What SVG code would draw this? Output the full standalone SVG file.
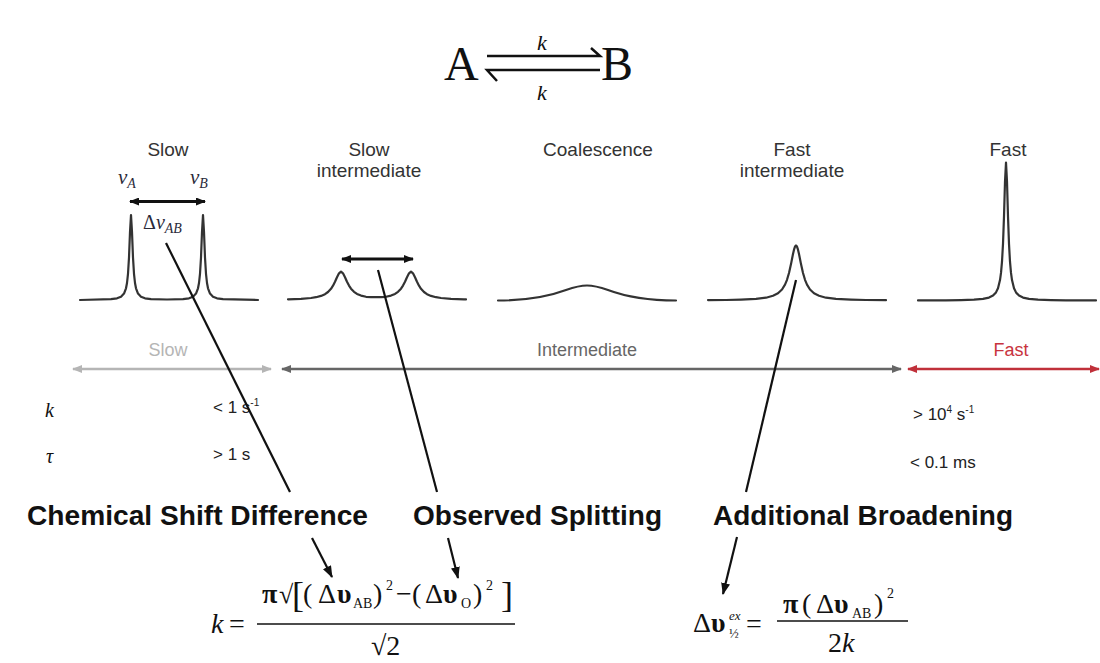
<svg xmlns="http://www.w3.org/2000/svg" width="1100" height="663" viewBox="0 0 1100 663">
<style>
.bg{fill:#ffffff}
.lbl{font-family:"Liberation Sans",Arial,sans-serif;font-size:19px;fill:#333;text-anchor:middle}
.reg{font-family:"Liberation Sans",Arial,sans-serif;font-size:18px;text-anchor:middle}
.val{font-family:"Liberation Sans",Arial,sans-serif;font-size:17px;fill:#222}
.sup{font-size:10px}
.big{font-family:"Liberation Sans",Arial,sans-serif;font-size:28px;font-weight:bold;fill:#111}
.serif{font-family:"Liberation Serif","Times New Roman",serif;fill:#111}
.math{font-family:"Liberation Serif","Times New Roman",serif;fill:#2a2a3a}
.spec{fill:none;stroke:#333;stroke-width:2.2;stroke-linejoin:round;stroke-linecap:round}
.conn{fill:none;stroke:#111;stroke-width:2.2}
.dbl{stroke:#111;stroke-width:3}
.bar{stroke:#111;stroke-width:1.6}
</style>
<defs>
<marker id="ahBlack" viewBox="0 0 10 8" refX="9" refY="4" markerWidth="10" markerHeight="8" markerUnits="userSpaceOnUse" orient="auto-start-reverse"><path d="M0,0 L10,4 L0,8 z" fill="#111"/></marker>
<marker id="ahLight" viewBox="0 0 10 8" refX="9" refY="4" markerWidth="11" markerHeight="8" markerUnits="userSpaceOnUse" orient="auto-start-reverse"><path d="M0,0 L10,4 L0,8 z" fill="#b5b5b5"/></marker>
<marker id="ahDark" viewBox="0 0 10 8" refX="9" refY="4" markerWidth="11" markerHeight="8" markerUnits="userSpaceOnUse" orient="auto-start-reverse"><path d="M0,0 L10,4 L0,8 z" fill="#666"/></marker>
<marker id="ahRed" viewBox="0 0 10 8" refX="9" refY="4" markerWidth="11" markerHeight="8" markerUnits="userSpaceOnUse" orient="auto-start-reverse"><path d="M0,0 L10,4 L0,8 z" fill="#c0303a"/></marker>
<marker id="ahConn" viewBox="0 0 12 9" refX="11" refY="4.5" markerWidth="12" markerHeight="9" markerUnits="userSpaceOnUse" orient="auto"><path d="M0,0 L12,4.5 L0,9 z" fill="#111"/></marker>
</defs>
<rect class="bg" x="0" y="0" width="1100" height="663"/>

<g id="equilibrium">
<text class="serif" x="444" y="80" font-size="48">A</text>
<text class="serif" x="601" y="80" font-size="48">B</text>
<path d="M487,56 L600,56 L591,48" fill="none" stroke="#111" stroke-width="2.5"/>
<path d="M600,70 L487,70 L497,81" fill="none" stroke="#111" stroke-width="2.5"/>
<text class="serif" x="542" y="50" font-size="22" font-style="italic" text-anchor="middle">k</text>
<text class="serif" x="542" y="100" font-size="22" font-style="italic" text-anchor="middle">k</text>
</g>

<g id="spectrum-slow">
<text class="lbl" x="168" y="156">Slow</text>
<text class="math" x="118" y="184" font-size="21" font-style="italic">ν<tspan font-size="14" dy="4">A</tspan></text>
<text class="math" x="190" y="184" font-size="21" font-style="italic">ν<tspan font-size="14" dy="4">B</tspan></text>
<text class="math" x="143" y="229" font-size="20">Δ<tspan font-style="italic">ν</tspan><tspan font-size="14" font-style="italic" dy="4">AB</tspan></text>
<line class="dbl" x1="130" y1="201.5" x2="205" y2="201.5" marker-start="url(#ahBlack)" marker-end="url(#ahBlack)"/>
<polyline class="spec" points="80,300 111,299.2 117,298.3 121,296.7 124,293.6 126,288.3 127,283 128,273.8 129,257.5 130,232 131,215 132,232 133,257.5 134,273.8 135,283 136,288.3 138,293.6 141,296.7 145,298.3 151,299.2 167,299.5 183,299.2 189,298.3 193,296.7 196,293.6 198,288.3 199,283 200,273.8 201,257.5 202,232 203,215 204,232 205,257.5 206,273.8 207,283 208,288.3 210,293.6 213,296.7 217,298.3 223,299.2 258,300"/>
</g>

<g id="spectrum-slow-intermediate">
<text class="lbl" x="369" y="156">Slow</text>
<text class="lbl" x="369" y="177">intermediate</text>
<line class="dbl" x1="342" y1="259" x2="413" y2="259" marker-start="url(#ahBlack)" marker-end="url(#ahBlack)"/>
<polyline class="spec" points="288,299.3 301,298.8 311,298 316,297.2 321,295.9 325,294.2 328,292 331,288.8 333,285.7 335,281.8 337,277.3 339,273.3 341,271.6 343,273.3 345,277.2 347,281.7 349,285.6 351,288.7 354,291.8 357,293.9 361,295.6 366,296.8 371,297.1 376,297.2 381,297.1 386,296.8 391,295.6 395,293.9 398,291.8 401,288.7 403,285.6 405,281.7 407,277.2 409,273.3 411,271.6 413,273.3 415,277.3 417,281.8 419,285.7 421,288.8 424,292 427,294.2 431,295.9 436,297.2 441,298 451,298.8 464,299.3 466,299.4"/>
</g>

<g id="spectrum-coalescence">
<text class="lbl" x="598" y="156">Coalescence</text>
<path class="spec" d="M498,300.5 C530,300.5 550,296 566,290 C576,286.5 582,285.5 587,285.5 C592,285.5 598,286.5 608,290 C624,296 644,300.5 676,300.5"/>
</g>

<g id="spectrum-fast-intermediate">
<text class="lbl" x="792" y="156">Fast</text>
<text class="lbl" x="792" y="177">intermediate</text>
<polyline class="spec" points="708,300.1 726,300 741,299.6 756,298.9 766,297.7 773,295.8 778,293.3 782,289.5 785,284.6 787,279.8 789,273 791,264.1 792,259 793,254 794,249.7 795,246.6 796,245.5 797,246.6 798,249.7 799,254 800,259 801,264.1 803,273 805,279.8 807,284.6 810,289.5 814,293.3 819,295.8 826,297.7 836,298.9 851,299.6 866,300 886,300.2"/>
</g>

<g id="spectrum-fast">
<text class="lbl" x="1008" y="156">Fast</text>
<polyline class="spec" points="918,300.4 946,300.3 961,300.1 974,299.7 983,298.9 989,297.6 993,295.6 996,292.4 998,288.2 1000,280.1 1001,272.9 1002,261.7 1003,243.9 1004,216.4 1005,181.5 1006,162.5 1007,181.5 1008,216.4 1009,243.9 1010,261.7 1011,272.9 1012,280.1 1014,288.2 1016,292.4 1019,295.6 1023,297.6 1029,298.9 1038,299.7 1051,300.1 1066,300.3 1096,300.4"/>
</g>

<g id="regime-slow">
<text class="reg" x="168" y="356" fill="#b5b5b5">Slow</text>
<line x1="73" y1="369" x2="271" y2="369" stroke="#b5b5b5" stroke-width="2.5" marker-start="url(#ahLight)" marker-end="url(#ahLight)"/>
</g>
<g id="regime-intermediate">
<text class="reg" x="587" y="356" fill="#666">Intermediate</text>
<line x1="282" y1="369" x2="901" y2="369" stroke="#666" stroke-width="2.5" marker-start="url(#ahDark)" marker-end="url(#ahDark)"/>
</g>
<g id="regime-fast">
<text class="reg" x="1011" y="356" fill="#c8333e">Fast</text>
<line x1="908" y1="369" x2="1099" y2="369" stroke="#c0303a" stroke-width="2.5" marker-start="url(#ahRed)" marker-end="url(#ahRed)"/>
</g>

<g id="rate-table">
<text class="serif" x="45" y="417" font-size="20" font-style="italic" fill="#333">k</text>
<text class="serif" x="46" y="463" font-size="20" font-style="italic" fill="#333">τ</text>
<text class="val" x="213" y="413">&lt; 1 s<tspan class="sup" dy="-7">-1</tspan></text>
<text class="val" x="213" y="460">&gt; 1 s</text>
<text class="val" x="913" y="420">&gt; 10<tspan class="sup" dy="-7">4</tspan><tspan dy="7"> s</tspan><tspan class="sup" dy="-7">-1</tspan></text>
<text class="val" x="910" y="468">&lt; 0.1 ms</text>
</g>

<g id="label-chemical-shift">
<text class="big" x="27" y="525" textLength="341" lengthAdjust="spacingAndGlyphs">Chemical Shift Difference</text>
</g>
<g id="label-observed-splitting">
<text class="big" x="413" y="525" textLength="249" lengthAdjust="spacingAndGlyphs">Observed Splitting</text>
</g>
<g id="label-additional-broadening">
<text class="big" x="713" y="525" textLength="300" lengthAdjust="spacingAndGlyphs">Additional Broadening</text>
</g>

<g id="formula-rate">
<text class="serif" x="211" y="633" font-size="28" font-style="italic">k</text>
<text class="serif" x="229" y="633" font-size="28">=</text>
<text class="serif" x="262" y="603" font-size="28" font-weight="bold">π</text>
<text class="serif" x="279" y="603" font-size="26">√</text>
<text class="serif" x="292" y="607" font-size="36">[</text>
<text class="serif" x="303" y="603" font-size="28">(</text>
<text class="serif" x="318" y="603" font-size="28">Δ</text>
<text class="serif" x="337" y="603" font-size="28" font-weight="bold">υ</text>
<text class="serif" x="353" y="608" font-size="14">AB</text>
<text class="serif" x="373" y="603" font-size="28">)</text>
<text class="serif" x="386" y="590" font-size="14">2</text>
<text class="serif" x="396" y="603" font-size="28">−</text>
<text class="serif" x="412" y="603" font-size="28">(</text>
<text class="serif" x="425" y="603" font-size="28">Δ</text>
<text class="serif" x="443" y="603" font-size="28" font-weight="bold">υ</text>
<text class="serif" x="461" y="608" font-size="14">O</text>
<text class="serif" x="473" y="603" font-size="28">)</text>
<text class="serif" x="486" y="590" font-size="14">2</text>
<text class="serif" x="501" y="607" font-size="36">]</text>
<line class="bar" x1="257" y1="624" x2="515" y2="624"/>
<text class="serif" x="371" y="655" font-size="28">√2</text>
</g>

<g id="formula-broadening">
<text class="serif" x="693" y="632" font-size="28">Δ</text>
<text class="serif" x="711" y="632" font-size="28" font-weight="bold">υ</text>
<text class="serif" x="729" y="620" font-size="13" font-style="italic">ex</text>
<text class="serif" x="729" y="638" font-size="13">½</text>
<text class="serif" x="746" y="633" font-size="28">=</text>
<line class="bar" x1="777" y1="621" x2="908" y2="621"/>
<text class="serif" x="783" y="613" font-size="28" font-weight="bold">π</text>
<text class="serif" x="802" y="613" font-size="28">(</text>
<text class="serif" x="816" y="613" font-size="28">Δ</text>
<text class="serif" x="834" y="613" font-size="28" font-weight="bold">υ</text>
<text class="serif" x="852" y="618" font-size="14">AB</text>
<text class="serif" x="874" y="613" font-size="28">)</text>
<text class="serif" x="887" y="598" font-size="14">2</text>
<text class="serif" x="828" y="652" font-size="28">2<tspan font-style="italic">k</tspan></text>
</g>

<g id="connectors">
<line class="conn" x1="166" y1="243" x2="290" y2="492"/>
<line class="conn" x1="312" y1="538" x2="332" y2="577" marker-end="url(#ahConn)"/>
<line class="conn" x1="378" y1="270" x2="437" y2="492"/>
<line class="conn" x1="448" y1="538" x2="458" y2="578" marker-end="url(#ahConn)"/>
<line class="conn" x1="796" y1="280" x2="746" y2="492"/>
<line class="conn" x1="737" y1="537" x2="723" y2="594" marker-end="url(#ahConn)"/>
</g>
</svg>
